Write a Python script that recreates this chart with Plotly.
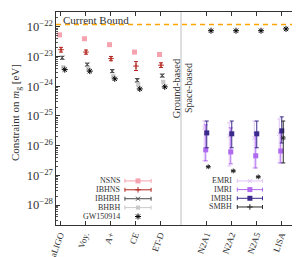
import numpy as np
import plotly.graph_objects as go

# ---------------- data ----------------
ground_detectors = ["aLIGO", "Voy.", "A+", "CE", "ET-D"]
space_detectors = ["N2A1", "N2A2", "N2A5", "LISA"]

current_bound = 1.2e-22  # eV

# log10 of constraint on m_g [eV] -- ground-based detectors
nsns_log = [-22.27, -22.40, -22.60, -22.85, -22.93]
ibhns_log = [-22.77, -22.85, -23.07, -23.32, -23.29]
ibhns_err = [0.08, 0.07, 0.07, 0.15, 0.08]
ibhbh_log = [-23.04, -23.27, -23.49, -23.80, -23.64]
ibhbh_err = [0.05, 0.05, 0.05, 0.06, 0.05]
bhbh_log = [-23.36, -23.40, -23.66, -23.94, -23.85]
bhbh_err = [0.04, 0.04, 0.04, 0.05, 0.04]
gw_ground_log = [-23.44, -23.49, -23.75, -24.09, -24.02]

# space-based detectors
gw_space_log = [-22.13, -22.13, -22.13, -22.07]
emri_log = [-25.40, -25.67, -25.74, -25.60]
emri_hi = [-25.17, -25.23, -25.17, -25.10]
emri_lo = [-26.51, -26.68, -26.75, -26.58]
imri_log = [-26.14, -26.21, -26.34, -26.18]
imri_hi = [-25.30, -25.40, -25.57, -25.57]
imri_lo = [-26.51, -26.61, -26.75, -26.58]
imbh_log = [-25.57, -25.60, -25.60, -25.50]
imbh_hi = [-25.17, -25.17, -25.17, -25.03]
imbh_lo = [-26.07, -26.07, -26.07, -25.91]
smbh_log = [-26.71, -26.85, -27.05, -25.74]
smbh_hi = [-26.71, -26.85, -27.05, -25.17]
smbh_lo = [-26.71, -26.85, -27.05, -26.58]

# ---------------- layout helpers ----------------
FONT = "Liberation Serif"
ground_x = np.arange(len(ground_detectors), dtype=float)
space_x = 5.85 + np.arange(len(space_detectors), dtype=float)
divider_x = 4.84

C_NSNS = "#f5a3ae"
C_IBHNS = "#b3261e"
C_IBHBH = "#4a4a4a"
C_BHBH = "#c9c9c9"
C_GW = "#000000"
C_EMRI = "#dfc2f6"
C_IMRI = "#b06af0"
C_IMBH = "#3b2a8c"
C_SMBH = "#2a2a2a"
TXT = "#333"


def p(v):
    return 10.0 ** np.asarray(v, dtype=float)


def errs(center, hi, lo):
    c = p(center)
    return dict(type="data", symmetric=False, array=p(hi) - c, arrayminus=c - p(lo),
                thickness=1, width=2)


def sym_errs(center, e):
    c = np.asarray(center, dtype=float)
    e = np.asarray(e, dtype=float)
    return errs(c, c + e, c - e)


fig = go.Figure()

# ground-based
fig.add_trace(go.Scatter(x=ground_x - 0.02, y=p(nsns_log), mode="markers",
                         marker=dict(symbol="square", size=5, color=C_NSNS),
                         showlegend=False))
fig.add_trace(go.Scatter(x=ground_x + 0.04, y=p(ibhns_log), mode="markers",
                         marker=dict(symbol="cross-thin", size=4, line=dict(color=C_IBHNS, width=1), color=C_IBHNS),
                         error_y=dict(sym_errs(ibhns_log, ibhns_err), color=C_IBHNS),
                         showlegend=False))
fig.add_trace(go.Scatter(x=ground_x + 0.09, y=p(ibhbh_log), mode="markers",
                         marker=dict(symbol="x-thin", size=4, line=dict(color=C_IBHBH, width=1), color=C_IBHBH),
                         error_y=dict(sym_errs(ibhbh_log, ibhbh_err), color=C_IBHBH),
                         showlegend=False))
fig.add_trace(go.Scatter(x=ground_x + 0.13, y=p(bhbh_log), mode="markers",
                         marker=dict(symbol="square", size=4, color=C_BHBH),
                         error_y=dict(sym_errs(bhbh_log, bhbh_err), color=C_BHBH),
                         showlegend=False))
fig.add_trace(go.Scatter(x=ground_x + 0.19, y=p(gw_ground_log), mode="markers",
                         marker=dict(symbol="asterisk", size=5, line=dict(color=C_GW, width=1), color=C_GW),
                         showlegend=False))

# space-based
fig.add_trace(go.Scatter(x=space_x + 0.19, y=p(gw_space_log), mode="markers",
                         marker=dict(symbol="asterisk", size=5, line=dict(color=C_GW, width=1), color=C_GW),
                         showlegend=False))
fig.add_trace(go.Scatter(x=space_x - 0.08, y=p(emri_log), mode="markers",
                         marker=dict(symbol="x-thin", size=4, line=dict(color=C_EMRI, width=1), color=C_EMRI),
                         error_y=dict(errs(emri_log, emri_hi, emri_lo), color=C_EMRI),
                         showlegend=False))
fig.add_trace(go.Scatter(x=space_x - 0.02, y=p(imri_log), mode="markers",
                         marker=dict(symbol="square", size=5, color=C_IMRI),
                         error_y=dict(errs(imri_log, imri_hi, imri_lo), color=C_IMRI),
                         showlegend=False))
fig.add_trace(go.Scatter(x=space_x + 0.02, y=p(imbh_log), mode="markers",
                         marker=dict(symbol="square", size=5, color=C_IMBH),
                         error_y=dict(errs(imbh_log, imbh_hi, imbh_lo), color=C_IMBH),
                         showlegend=False))
fig.add_trace(go.Scatter(x=space_x + 0.08, y=p(smbh_log), mode="markers",
                         marker=dict(symbol="asterisk", size=4, line=dict(color=C_SMBH, width=1), color=C_SMBH),
                         error_y=dict(errs(smbh_log, smbh_hi, smbh_lo), color=C_SMBH),
                         showlegend=False))

# current bound and ground/space divider
fig.add_hline(y=current_bound, line=dict(color="#ffa500", width=1.5, dash="5px,4px"))
fig.add_shape(type="line", xref="x", yref="paper", x0=divider_x, x1=divider_x, y0=0, y1=1,
              line=dict(color="#d4d4d4", width=1.5), layer="below")

# ---------------- hand-made legends (label left, key right) ----------------
ground_labels = ["NSNS", "IBHNS", "IBHBH", "BHBH", "GW150914"]
ground_styles = [
    dict(symbol="square", size=5, color=C_NSNS),
    dict(symbol="cross-thin", size=4, color=C_IBHNS, line=dict(color=C_IBHNS, width=1)),
    dict(symbol="x-thin", size=4, color=C_IBHBH, line=dict(color=C_IBHBH, width=1)),
    dict(symbol="square", size=4, color=C_BHBH),
    dict(symbol="asterisk", size=5, color=C_GW, line=dict(color=C_GW, width=1)),
]
ground_has_bar = [True, True, True, True, False]
space_labels = ["EMRI", "IMRI", "IMBH", "SMBH"]
space_styles = [
    dict(symbol="x-thin", size=4, color=C_EMRI, line=dict(color=C_EMRI, width=1)),
    dict(symbol="square", size=5, color=C_IMRI),
    dict(symbol="square", size=5, color=C_IMBH),
    dict(symbol="cross-thin", size=4, color=C_SMBH, line=dict(color=C_SMBH, width=1)),
]


def add_legend(labels, styles, has_bar, text_right, key_x, half, top, step):
    for i, (lab, st, bar) in enumerate(zip(labels, styles, has_bar)):
        yy = top - i * step
        fig.add_trace(go.Scatter(
            x=[key_x], y=[yy], mode="markers", marker=st, xaxis="x2", yaxis="y2",
            error_x=dict(type="constant", value=half, thickness=1, width=2,
                         color=st["color"], visible=bar),
            showlegend=False, hoverinfo="skip"))
        fig.add_annotation(x=text_right, y=yy, xref="paper", yref="paper", text=lab,
                           showarrow=False, xanchor="right", yanchor="middle",
                           font=dict(family=FONT, size=8, color=TXT), borderpad=0)


add_legend(ground_labels, ground_styles, ground_has_bar, 0.263, 0.332, 0.053, 0.207, 0.0418)
add_legend(space_labels, space_styles, [True] * 4, 0.717, 0.785, 0.051, 0.207, 0.0408)

# texts
fig.add_annotation(x=0.02, y=0.962, xref="paper", yref="paper", text="Current Bound",
                   showarrow=False, xanchor="left", yanchor="middle",
                   font=dict(family=FONT, size=11, color=TXT))
fig.add_annotation(x=0.488, y=0.64, xref="paper", yref="paper", text="Ground-based",
                   showarrow=False, textangle=-90, xanchor="center", yanchor="middle",
                   font=dict(family=FONT, size=10.5, color=TXT))
fig.add_annotation(x=0.534, y=0.643, xref="paper", yref="paper", text="Space-based",
                   showarrow=False, textangle=-90, xanchor="center", yanchor="middle",
                   font=dict(family=FONT, size=10, color=TXT))
fig.add_annotation(x=-0.162, y=0.53, xref="paper", yref="paper",
                   text="Constraint on <i>m</i><sub>g</sub> [eV]",
                   showarrow=False, textangle=-90, xanchor="center", yanchor="middle",
                   font=dict(family=FONT, size=11, color=TXT))

fig.update_layout(
    width=300, height=257,
    margin=dict(l=48, r=5, t=4, b=40),
    paper_bgcolor="white", plot_bgcolor="white",
    showlegend=False,
    font=dict(family=FONT, color=TXT),
    xaxis=dict(range=[-0.16, 9.72], tickvals=list(ground_x) + list(space_x),
               ticktext=ground_detectors + space_detectors, tickangle=-70,
               ticks="inside", ticklen=4, tickcolor="#333", showline=True, linecolor="#333",
               linewidth=1, mirror="allticks", showgrid=False, zeroline=False,
               tickfont=dict(family=FONT, size=9, color=TXT)),
    yaxis=dict(type="log", range=[-28.67, -21.5], dtick=1, exponentformat="power",
               ticks="inside", ticklen=4, tickcolor="#333", showline=True, linecolor="#333",
               linewidth=1, mirror="allticks", showgrid=False, zeroline=False,
               minor=dict(ticks="inside", ticklen=2, tickcolor="#555", showgrid=False),
               tickfont=dict(family=FONT, size=10, color=TXT)),
    xaxis2=dict(domain=[0, 1], range=[0, 1], anchor="y2", overlaying="x", visible=False),
    yaxis2=dict(domain=[0, 1], range=[0, 1], anchor="x2", overlaying="y", visible=False),
)

fig.write_html("out.html")
